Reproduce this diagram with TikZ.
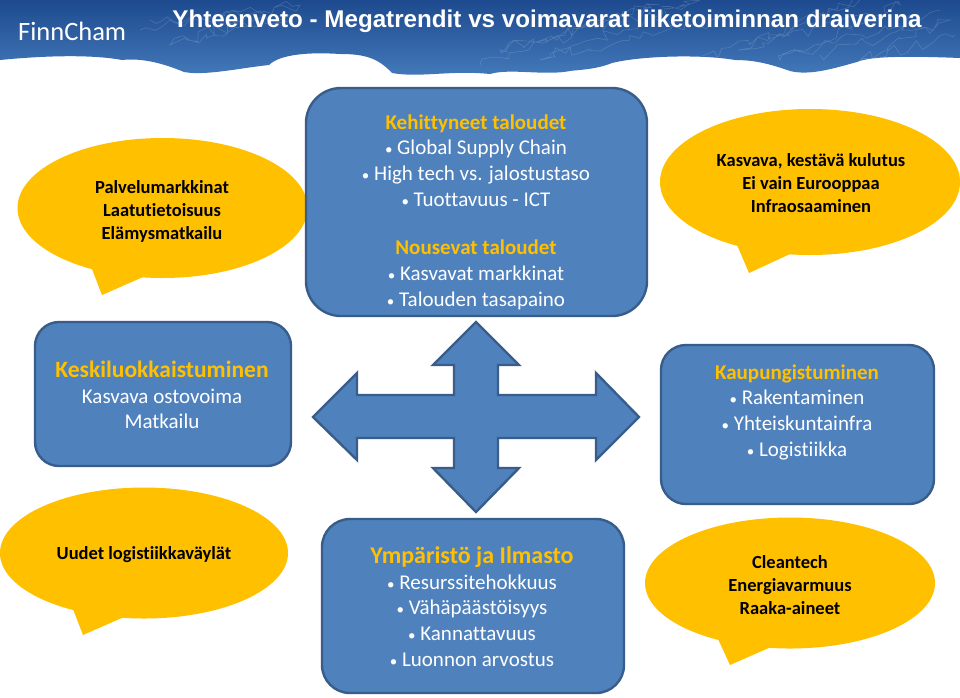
\documentclass[tikz,border=0pt]{standalone}
\usepackage{fontspec}
\setmainfont[Ligatures=NoCommon]{Carlito}
\newfontfamily\titlefont{Liberation Sans}
\usetikzlibrary{decorations.pathmorphing}
\definecolor{bannerdark}{HTML}{1D4A8E}
\definecolor{bannerlight}{HTML}{4379BA}
\definecolor{boxblue}{HTML}{4F81BD}
\definecolor{boxedge}{HTML}{385D8A}
\definecolor{bubblegold}{HTML}{FFC000}
\definecolor{headgold}{HTML}{FFC000}
\tikzset{
  boxnode/.style={draw=boxedge, line width=2.4pt, fill=boxblue, inner sep=0pt},
  boxtext/.style={align=center, font=\fontsize{21}{25.7}\selectfont, text=white},
  bubble/.style={fill=bubblegold, draw=none},
  bubbletext/.style={align=center, font=\fontsize{18.5}{23}\selectfont\bfseries, text=black},
  bannertext/.style={text=white, inner sep=0pt},
  scribble/.style={draw=white, opacity=0.16, line width=0.6pt,
    decorate, decoration={random steps, segment length=7pt, amplitude=6pt}}
}
\newcommand{\headline}[1]{\textcolor{headgold}{\bfseries #1}}
\newcommand{\bul}{{\fontsize{15}{20}\selectfont•}\ }
\begin{document}
\begin{tikzpicture}[x=1pt, y=-1pt]
  \useasboundingbox (0,0) rectangle (960,697);
  \fill[white] (0,0) rectangle (960,697);
  % banner
  \begin{scope}
    \path[clip] (0,0) -- (960,0) -- (960,58)
      .. controls (910,56) and (870,56) .. (857,62)
      .. controls (835,68) and (810,76) .. (790,71)
      .. controls (770,64) and (755,60) .. (735,60)
      .. controls (700,54) and (640,56) .. (612,63)
      .. controls (595,70) and (575,70) .. (570,71)
      .. controls (545,76) and (510,68) .. (490,74)
      .. controls (450,70) and (420,78) .. (392,73)
      .. controls (378,58) and (365,54) .. (340,54)
      .. controls (310,52) and (280,54) .. (269,65)
      .. controls (240,68) and (205,76) .. (184,72)
      .. controls (160,62) and (140,58) .. (122,60)
      .. controls (90,54) and (40,56) .. (0,60) -- cycle;
    \shade[top color=bannerdark, bottom color=bannerlight] (0,0) rectangle (960,76);
    \pgfmathsetseed{7}
    \path[scribble] (140,30) -- (300,5) -- (170,45) -- (290,15) -- (150,20);
    \path[scribble] (480,65) -- (660,5) -- (500,50) -- (700,0) -- (540,60) -- (720,20);
    \path[scribble] (700,60) -- (860,0) -- (740,50) -- (900,5) -- (780,60) -- (940,10);
    \path[scribble] (820,55) -- (950,20) -- (860,60) -- (955,35);
  \end{scope}
  \node[bannertext, anchor=west, font=\fontsize{26.5}{26}\selectfont] (logo) at (18,31) {FinnCham};
  \node[bannertext, anchor=center, font=\titlefont\fontsize{24.2}{24}\selectfont\bfseries] (title) at (547,21)
    {Yhteenveto - Megatrendit vs voimavarat liiketoiminnan draiverina};
  % bubbles
  \fill[bubble] (162.5,208) ellipse [x radius=145, y radius=70];
  \fill[bubble] (92,269) -- (102,295) -- (143,277) -- (120,260) -- cycle;
  \fill[bubble] (810,182) ellipse [x radius=150, y radius=73];
  \fill[bubble] (737,245) -- (749,273) -- (790,254) -- (765,235) -- cycle;
  \fill[bubble] (144,553) ellipse [x radius=144, y radius=65.5];
  \fill[bubble] (73,609) -- (83,635) -- (124,617) -- (100,600) -- cycle;
  \fill[bubble] (790,583) ellipse [x radius=145, y radius=65.5];
  \fill[bubble] (718,639) -- (730,665) -- (771,647) -- (745,630) -- cycle;
  \node[bubbletext] (palvelu) at (162,211) {Palvelumarkkinat\\Laatutietoisuus\\Elämysmatkailu};
  \node[bubbletext] (kulutus) at (811,183) {Kasvava, kestävä kulutus\\Ei vain Eurooppaa\\Infraosaaminen};
  \node[bubbletext] (uudet) at (144,555) {Uudet logistiikkaväylät};
  \node[bubbletext] (clean) at (790,585) {Cleantech\\Energiavarmuus\\Raaka-aineet};
  % boxes
  \draw[boxnode, rounded corners=35pt] (306,88) rectangle (647,316);
  \draw[boxnode, rounded corners=24pt] (35,322) rectangle (291,466);
  \draw[boxnode, rounded corners=25pt] (661,345) rectangle (934,504);
  \draw[boxnode, rounded corners=28pt] (322,519) rectangle (624,693);
  \node[boxtext] (talous) at (476,212) {\headline{Kehittyneet taloudet}\\ \bul Global Supply Chain\\ \bul High tech vs. jalostustaso\\ \bul Tuottavuus - ICT\\[-3pt]\\ \headline{Nousevat taloudet}\\ \bul Kasvavat markkinat\\ \bul Talouden tasapaino};
  \node[boxtext] (keski) at (162,395) {\headline{\fontsize{23.5}{26}\selectfont Keskiluokkaistuminen}\\Kasvava ostovoima\\Matkailu};
  \node[boxtext] (kaupunki) at (797,412) {\headline{Kaupungistuminen}\\ \bul Rakentaminen\\ \bul Yhteiskuntainfra\\ \bul Logistiikka};
  \node[boxtext] (ymparisto) at (472,606.5) {\headline{\fontsize{24}{26}\selectfont Ympäristö ja Ilmasto}\\ \bul Resurssitehokkuus\\ \bul Vähäpäästöisyys\\ \bul Kannattavuus\\ \bul Luonnon arvostus};
  % cross arrow
  \draw[boxnode, line join=miter]
    (313,417) -- (357,373) -- (357,395) -- (454,395) -- (454,365) -- (433,365)
    -- (476,322) -- (519,365) -- (498,365) -- (498,395) -- (596,395) -- (596,373)
    -- (639,417) -- (596,460) -- (596,438) -- (498,438) -- (498,468) -- (519,468)
    -- (476,512) -- (433,468) -- (454,468) -- (454,438) -- (357,438) -- (357,460) -- cycle;
\end{tikzpicture}
\end{document}
